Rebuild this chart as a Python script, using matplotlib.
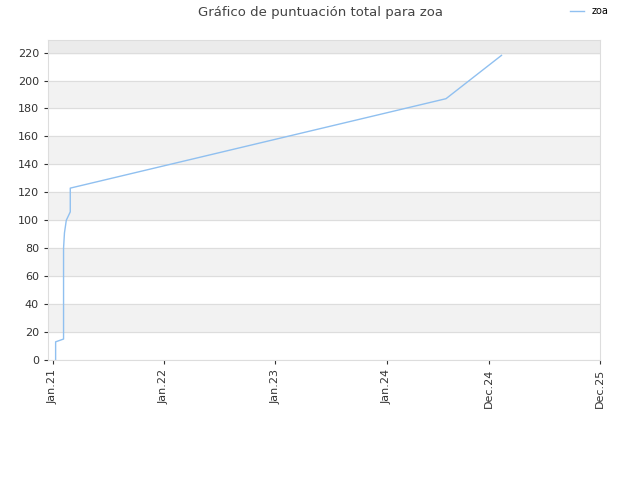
import matplotlib
matplotlib.use("Agg")
import matplotlib.pyplot as plt
import pandas as pd

dates = pd.to_datetime(["2021-01-11", "2021-01-11", "2021-01-11", "2021-02-06", "2021-02-06",
                        "2021-02-09", "2021-02-15", "2021-02-28", "2021-02-28",
                        "2024-07-14", "2025-01-12"])
scores = [0, 12, 13, 15, 80, 91, 100, 106, 123, 187, 218]

tick_dates = pd.to_datetime(["2021-01-01", "2022-01-01", "2023-01-01", "2024-01-01",
                             "2024-12-01", "2025-12-01"])
tick_labels = ["Jan.21", "Jan.22", "Jan.23", "Jan.24", "Dec.24", "Dec.25"]

fig = plt.figure(figsize=(6.4, 4.8), dpi=100)
ax = fig.add_axes([48/640, 1 - 360/480, 552/640, 320/480])

for lo in range(20, 240, 40):
    ax.axhspan(lo, lo + 20, color="#f2f2f2", zorder=0)
ax.axhspan(220, 230, color="#ebebeb", zorder=0)
for y in range(0, 240, 20):
    ax.axhline(y, color="#dddddd", lw=0.8, zorder=1)

ax.plot(dates, scores, color="#90c0f0", lw=1, label="zoa", zorder=2)

ax.set_ylim(0, 229)
ax.set_yticks(range(0, 240, 20))
ax.set_xlim(pd.Timestamp("2020-12-17"), pd.Timestamp("2025-12-01"))
ax.set_xticks(tick_dates)
ax.set_xticklabels(tick_labels, rotation=90)
ax.tick_params(labelsize=8, colors="#333333", length=3)
for s in ax.spines.values():
    s.set_color("#dddddd")

fig.suptitle("Gráfico de puntuación total para zoa", fontsize=9.5, color="#444444", y=0.988)
fig.legend(loc="upper right", bbox_to_anchor=(0.965, 1.005), frameon=False, fontsize=7,
           handlelength=1.5)
fig.savefig("out.png")
